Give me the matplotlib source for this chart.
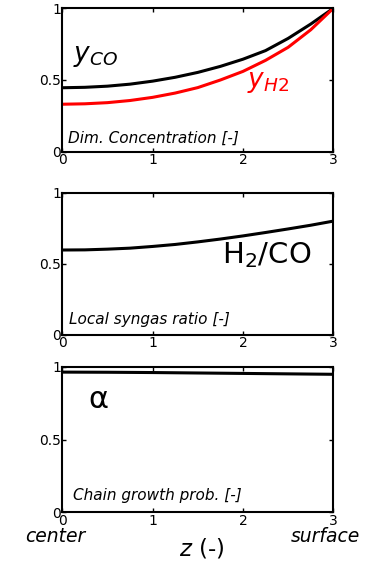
import numpy as np
import matplotlib
matplotlib.use('Agg')
import matplotlib.pyplot as plt

plt.rcParams['font.family'] = ['DejaVu Sans']
plt.rcParams['mathtext.fontset'] = 'dejavusans'

# radial position in the pellet
z = [0.0, 0.25, 0.5, 0.75, 1.0, 1.25, 1.5, 1.75, 2.0, 2.25, 2.5, 2.75, 3.0]

# dimensionless concentrations
y_co = [0.446, 0.449, 0.457, 0.471, 0.492, 0.519, 0.553, 0.595,
        0.645, 0.705, 0.790, 0.890, 1.0]
y_h2 = [0.331, 0.334, 0.342, 0.357, 0.379, 0.409, 0.447, 0.500,
        0.560, 0.637, 0.728, 0.850, 1.0]

# local H2/CO ratio
ratio = [0.597, 0.598, 0.603, 0.610, 0.622, 0.636, 0.654, 0.674,
         0.696, 0.720, 0.745, 0.771, 0.800]

# chain growth probability
alpha = [0.963, 0.9625, 0.962, 0.961, 0.960, 0.9585, 0.957, 0.9555,
         0.954, 0.9525, 0.951, 0.9495, 0.948]

xticks = [0, 1, 2, 3]
yticks = [0, 0.5, 1]
yticklabels = ['0', '0.5', '1']

fig = plt.figure(figsize=(3.76, 5.61), dpi=100)
boxes = [[0.1657, 0.7296, 0.7207, 0.2556],
         [0.1657, 0.4029, 0.7207, 0.2537],
         [0.1657, 0.0868, 0.7207, 0.2595]]
axs = [fig.add_axes(b) for b in boxes]

for ax in axs:
    ax.set_xlim(0, 3)
    ax.set_ylim(0, 1)
    ax.set_xticks(xticks)
    ax.set_yticks(yticks)
    ax.set_yticklabels(yticklabels)
    ax.tick_params(direction='in', length=3, width=1, labelsize=10,
                   top=True, right=True, pad=1)
    for s in ax.spines.values():
        s.set_linewidth(1.5)

ax1, ax2, ax3 = axs

# concentration profiles
ax1.plot(z, y_co, color='black', lw=2.2)
ax1.plot(z, y_h2, color='red', lw=2.2)
ax1.text(0.118, 0.635, r'$y_{CO}$', fontsize=19, va='baseline')
ax1.text(2.05, 0.449, r'$y_{H2}$', fontsize=19, color='red', va='baseline')
ax1.text(0.066, 0.063, 'Dim. Concentration [-]', fontsize=11,
         style='italic', va='baseline')

# syngas ratio
ax2.plot(z, ratio, color='black', lw=2.2)
ax2.text(1.77, 0.504, r'H$_2$/CO', fontsize=21, va='baseline')
ax2.text(0.077, 0.077, 'Local syngas ratio [-]', fontsize=11,
         style='italic', va='baseline')

# chain growth probability
ax3.plot(z, alpha, color='black', lw=2.2)
ax3.text(0.40, 0.773, 'α', fontsize=22, ha='center', va='center')
ax3.text(0.114, 0.085, 'Chain growth prob. [-]', fontsize=11,
         style='italic', va='baseline')

fig.text(55.3 / 376, 1 - 541.7 / 561, 'center', fontsize=13.5, style='italic',
         ha='center', va='baseline')
fig.text(325.5 / 376, 1 - 541.7 / 561, 'surface', fontsize=13.5, style='italic',
         ha='center', va='baseline')
fig.text(202 / 376, 1 - 555 / 561, r'$z$ (-)', fontsize=16.5,
         ha='center', va='baseline')

fig.savefig('out.png', dpi=100)
